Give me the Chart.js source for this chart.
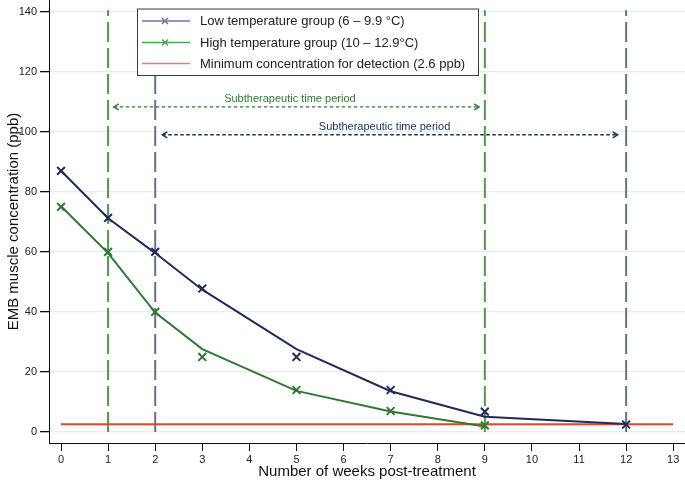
<!DOCTYPE html>
<html>
<head>
<meta charset="utf-8">
<script src="https://cdn.jsdelivr.net/npm/chart.js@4.4.1/dist/chart.umd.min.js"></script>
<style>
    html, body { margin: 0; padding: 0; background: #fff; }
    #wrap { width: 685px; height: 482px; }
</style>
</head>
<body>
<div id="wrap"><canvas id="embChart"></canvas></div>
<script>
// measured points (markers) and fitted curve (line) per temperature group
const lowWeeks = [0, 1, 2, 3, 5, 7, 9, 12];
const lowMeasured = [87, 71.3, 60, 47.8, 25, 14, 6.8, 2.5];
const lowFitted = [87, 71.2, 59.6, 47.4, 27.6, 13.6, 5.1, 2.7];

const highWeeks = [0, 1, 2, 3, 5, 7, 9];
const highMeasured = [75, 60, 40, 25, 14, 7, 2.2];
const highFitted = [75.2, 59.6, 39.8, 27.6, 13.7, 6.8, 1.8];

const detectionLimit = 2.6;
const highCutoffs = [1, 9];
const lowCutoffs = [2, 12];

const weekTicks = [0, 1, 2, 3, 4, 5, 6, 7, 8, 9, 10, 11, 12, 13];
const concTicks = [0, 20, 40, 60, 80, 100, 120, 140];

const labels = [
    'Low temperature group (6 \u2013 9.9 \u00b0C)',
    'High temperature group (10 \u2013 12.9\u00b0C)',
    'Minimum concentration for detection (2.6 ppb)'
];
const periodLabel = 'Subtherapeutic time period';

const NAVY = '#1f2b5b';
const GREEN = '#2f7a32';
const RED = '#e8432c';
const NAVY_DASH = '#68708f';
const GREEN_DASH = '#4f9a45';
const FONT = '"Liberation Sans", Arial, Helvetica, sans-serif';

const toPoints = (xs, ys) => xs.map((x, i) => ({ x: x, y: ys[i] }));

function cutoffLine(week, color) {
    return {
        data: [{ x: week, y: 0 }, { x: week, y: 140.5 }],
        borderColor: color,
        borderWidth: 2,
        borderDash: [20, 6],
        pointRadius: 0,
        showLine: true,
        fill: false
    };
}

function arrowHead(ctx, x, y, dir) {
    ctx.beginPath();
    ctx.moveTo(x - dir * 5, y - 3);
    ctx.lineTo(x, y);
    ctx.lineTo(x - dir * 5, y + 3);
    ctx.stroke();
}

// no room kept for overflowing tick labels, the plot runs to the canvas edge
function noEdgePadding(axis) {
    axis.paddingTop = 0;
    axis.paddingBottom = 0;
    axis.paddingLeft = 0;
    axis.paddingRight = 0;
}

const periodArrows = {
    id: 'periodArrows',
    afterDatasetsDraw(chart) {
        const { ctx, scales: { x, y } } = chart;
        const rows = [
            { from: 1.12, to: 8.88, at: 108.3, textX: 4.86, textY: 110.8, color: GREEN },
            { from: 2.15, to: 11.82, at: 99, textX: 6.87, textY: 101.6, color: NAVY }
        ];
        ctx.save();
        rows.forEach(r => {
            const x1 = x.getPixelForValue(r.from);
            const x2 = x.getPixelForValue(r.to);
            const py = y.getPixelForValue(r.at);
            ctx.strokeStyle = r.color;
            ctx.lineWidth = 1.4;
            ctx.setLineDash([3.5, 2.5]);
            ctx.beginPath();
            ctx.moveTo(x1, py);
            ctx.lineTo(x2, py);
            ctx.stroke();
            ctx.setLineDash([]);
            arrowHead(ctx, x1, py, -1);
            arrowHead(ctx, x2, py, 1);
            ctx.fillStyle = r.color;
            ctx.font = '11px ' + FONT;
            ctx.textAlign = 'center';
            ctx.textBaseline = 'middle';
            ctx.fillText(periodLabel, x.getPixelForValue(r.textX), y.getPixelForValue(r.textY));
        });
        ctx.restore();
    }
};

const boxLegend = {
    id: 'boxLegend',
    afterDraw(chart) {
        const ctx = chart.ctx;
        const left = 137, top = 8.5, w = 341, h = 66.5;
        const swatches = [
            { color: '#6d75a3', marker: true },
            { color: '#4fa54f', marker: true },
            { color: '#f07a6a', marker: false }
        ];
        const rowsY = [21, 42.5, 63.5];
        ctx.save();
        ctx.fillStyle = '#fff';
        ctx.fillRect(left, top, w, h);
        ctx.strokeStyle = '#3a3a3a';
        ctx.lineWidth = 1;
        ctx.strokeRect(left + 0.5, top + 0.5, w, h);
        ctx.font = '13px ' + FONT;
        ctx.textBaseline = 'middle';
        ctx.textAlign = 'left';
        swatches.forEach((s, i) => {
            const yy = rowsY[i];
            ctx.strokeStyle = s.color;
            ctx.lineWidth = 1.5;
            ctx.beginPath();
            ctx.moveTo(142, yy);
            ctx.lineTo(190, yy);
            ctx.stroke();
            if (s.marker) {
                ctx.beginPath();
                ctx.moveTo(162, yy - 3); ctx.lineTo(168, yy + 3);
                ctx.moveTo(168, yy - 3); ctx.lineTo(162, yy + 3);
                ctx.stroke();
            }
            ctx.fillStyle = '#222';
            ctx.fillText(labels[i], 200, yy + 0.5);
        });
        ctx.restore();
    }
};

new Chart(document.getElementById('embChart'), {
    type: 'scatter',
    data: {
        datasets: [
            {
                data: toPoints(lowWeeks, lowMeasured),
                pointStyle: 'crossRot',
                pointRadius: 5.5,
                pointBorderWidth: 2,
                pointBorderColor: NAVY,
                showLine: false
            },
            {
                data: toPoints(highWeeks, highMeasured),
                pointStyle: 'crossRot',
                pointRadius: 5.5,
                pointBorderWidth: 2,
                pointBorderColor: GREEN,
                showLine: false
            },
            {
                data: toPoints(lowWeeks, lowFitted),
                borderColor: NAVY,
                borderWidth: 2,
                pointRadius: 0,
                showLine: true
            },
            {
                data: toPoints(highWeeks, highFitted),
                borderColor: GREEN,
                borderWidth: 2,
                pointRadius: 0,
                showLine: true
            },
            {
                data: [{ x: 0, y: detectionLimit }, { x: 13, y: detectionLimit }],
                borderColor: RED,
                borderWidth: 2,
                pointRadius: 0,
                showLine: true
            },
            ...highCutoffs.map(w => cutoffLine(w, GREEN_DASH)),
            ...lowCutoffs.map(w => cutoffLine(w, NAVY_DASH))
        ]
    },
    options: {
        responsive: true,
        maintainAspectRatio: false,
        animation: false,
        layout: { padding: 0, autoPadding: false },
        plugins: {
            legend: { display: false },
            tooltip: { enabled: false }
        },
        scales: {
            x: {
                type: 'linear',
                min: -0.255,
                max: 13.25,
                afterBuildTicks: axis => { axis.ticks = weekTicks.map(v => ({ value: v })); },
                afterFit: axis => { axis.height = 39; noEdgePadding(axis); },
                ticks: { color: '#222', font: { family: FONT, size: 11 }, padding: 2 },
                grid: { drawOnChartArea: false, tickLength: 8, tickColor: '#111', lineWidth: 1 },
                border: { color: '#111', width: 1 },
                title: {
                    display: true,
                    text: 'Number of weeks post-treatment',
                    color: '#111',
                    font: { family: FONT, size: 15 },
                    padding: { top: 0, bottom: 1 }
                }
            },
            y: {
                type: 'linear',
                min: -3.66,
                max: 143.9,
                afterBuildTicks: axis => { axis.ticks = concTicks.map(v => ({ value: v })); },
                afterFit: axis => { axis.width = 49; noEdgePadding(axis); },
                ticks: { color: '#222', font: { family: FONT, size: 11 }, padding: 3 },
                grid: { color: '#e3eef0', lineWidth: 1.3, tickLength: 9, tickColor: '#111' },
                border: { color: '#111', width: 1 },
                title: {
                    display: true,
                    text: 'EMB muscle concentration (ppb)',
                    color: '#111',
                    font: { family: FONT, size: 15 },
                    padding: { top: 5, bottom: 0 }
                }
            }
        }
    },
    plugins: [periodArrows, boxLegend]
});
</script>
</body>
</html>
